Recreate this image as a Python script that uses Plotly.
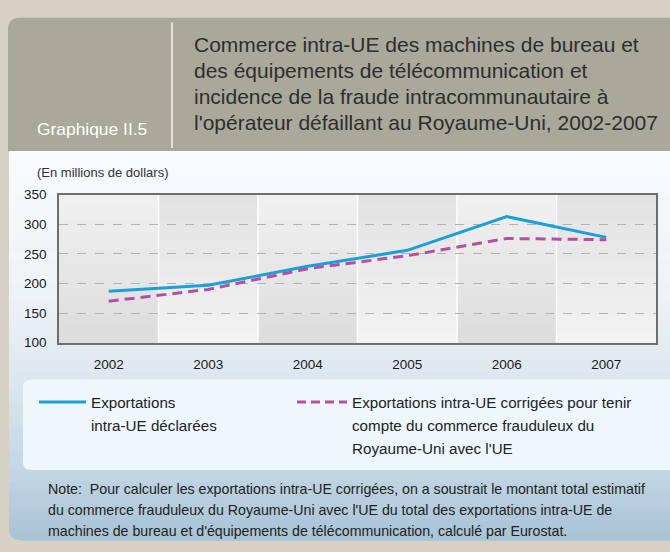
import plotly.graph_objects as go

# ---------------- data ----------------
years = ["2002", "2003", "2004", "2005", "2006", "2007"]
declared = [187, 197, 229, 256, 313, 278]
corrected = [170, 190, 225, 247, 276, 274]
series_names = [
    "Exportations intra-UE déclarées",
    "Exportations intra-UE corrigées pour tenir compte du commerce frauduleux du Royaume-Uni avec l'UE",
]
y_ticks = [100, 150, 200, 250, 300, 350]

chart_label = "Graphique II.5"
title_lines = [
    "Commerce intra-UE des machines de bureau et",
    "des équipements de télécommunication et",
    "incidence de la fraude intracommunautaire à",
    "l'opérateur défaillant au Royaume-Uni, 2002-2007",
]
unit_label = "(En millions de dollars)"
legend1_lines = ["Exportations", "intra-UE déclarées"]
legend2_lines = [
    "Exportations intra-UE corrigées pour tenir",
    "compte du commerce frauduleux du",
    "Royaume-Uni avec l'UE",
]
note_lines = [
    "Note:  Pour calculer les exportations intra-UE corrigées, on a soustrait le montant total estimatif",
    "du commerce frauduleux du Royaume-Uni avec l'UE du total des exportations intra-UE de",
    "machines de bureau et d'équipements de télécommunication, calculé par Eurostat.",
]

# ---------------- style ----------------
W, H = 670, 552
FONT = "Liberation Sans, Arial, sans-serif"
PAGE = "#d7d1c5"
HEADER = "#aaa89a"
BLUE = "#1b9fdb"
PINK = "#b3519f"
TEXT = "#222222"


def px(x):
    return x / W


def py(y):
    return 1 - y / H


def hex2rgb(h):
    h = h.lstrip("#")
    return tuple(int(h[i:i + 2], 16) for i in (0, 2, 4))


def lerp_color(stops, t):
    for (t0, c0), (t1, c1) in zip(stops[:-1], stops[1:]):
        if t0 <= t <= t1:
            f = 0 if t1 == t0 else (t - t0) / (t1 - t0)
            a, b = hex2rgb(c0), hex2rgb(c1)
            return "rgb(%d,%d,%d)" % tuple(round(a[i] + (b[i] - a[i]) * f) for i in range(3))
    return stops[-1][1]


shapes = []

# header panel with rounded top-left corner
r = 12
x0, x1, y0, y1 = 8, 675, 11, 148
shapes.append(dict(
    type="path", xref="paper", yref="paper", layer="below",
    path=(f"M {px(x0)},{py(y1)} L {px(x0)},{py(y0 + r)} "
          f"Q {px(x0)},{py(y0)} {px(x0 + r)},{py(y0)} "
          f"L {px(x1)},{py(y0)} L {px(x1)},{py(y1)} Z"),
    fillcolor=HEADER, line=dict(width=0),
))

# body gradient strips
body_top, body_bot = 148, 548
body_stops = [(0.0, "#f8fbfd"), (0.35, "#eef3f7"), (0.55, "#e0e9f0"),
              (0.82, "#c3d6e3"), (1.0, "#a7c3d6")]
n = 60
for k in range(n):
    ya = body_top + (body_bot - body_top) * k / n
    yb = body_top + (body_bot - body_top) * (k + 1) / n
    shapes.append(dict(
        type="rect", xref="paper", yref="paper", layer="below",
        x0=px(9), x1=px(675), y0=py(yb + 0.6), y1=py(ya),
        fillcolor=lerp_color(body_stops, (k + 0.5) / n), line=dict(width=0),
    ))
# bottom-left rounded corner mask
r = 12
bx, byy = 9, 548
shapes.append(dict(
    type="path", xref="paper", yref="paper", layer="below",
    path=(f"M {px(bx - 1)},{py(byy - r)} L {px(bx)},{py(byy - r)} "
          f"Q {px(bx)},{py(byy)} {px(bx + r)},{py(byy)} "
          f"L {px(bx + r)},{py(byy + 2)} L {px(bx - 1)},{py(byy + 2)} Z"),
    fillcolor=PAGE, line=dict(width=0),
))

# white separator in header
shapes.append(dict(type="line", xref="paper", yref="paper", layer="below",
                   x0=px(172), x1=px(172), y0=py(16), y1=py(145),
                   line=dict(color="#f4f4f0", width=1.5)))

# legend box with rounded left corners
r = 8
lx0, lx1, ly0, ly1 = 23, 675, 383, 476
shapes.append(dict(
    type="path", xref="paper", yref="paper", layer="below",
    path=(f"M {px(lx0)},{py(ly1 - r)} L {px(lx0)},{py(ly0 + r)} "
          f"Q {px(lx0)},{py(ly0)} {px(lx0 + r)},{py(ly0)} "
          f"L {px(lx1)},{py(ly0)} L {px(lx1)},{py(ly1)} L {px(lx0 + r)},{py(ly1)} "
          f"Q {px(lx0)},{py(ly1)} {px(lx0)},{py(ly1 - r)} Z"),
    fillcolor="#eff7fc", line=dict(width=0),
))

# legend samples
shapes.append(dict(type="line", xref="paper", yref="paper",
                   x0=px(39), x1=px(86), y0=py(406), y1=py(406),
                   line=dict(color=BLUE, width=3)))
shapes.append(dict(type="line", xref="paper", yref="paper",
                   x0=px(297), x1=px(347), y0=py(406), y1=py(406),
                   line=dict(color=PINK, width=3, dash="9px,5px")))

# alternating gradient bands in the plot area
nb = 16
for i in range(len(years)):
    if i % 2 == 0:
        stops = [(0.0, "#dcdcdc"), (1.0, "#f1f1f1")]  # bottom -> top
    else:
        stops = [(0.0, "#f2f2f2"), (1.0, "#e2e2e2")]
    for k in range(nb):
        shapes.append(dict(
            type="rect", xref="x", yref="y domain", layer="below",
            x0=i - 0.5, x1=i + 0.5, y0=k / nb, y1=min(1, (k + 1) / nb + 0.004),
            fillcolor=lerp_color(stops, (k + 0.5) / nb), line=dict(width=0),
        ))
for i in range(1, len(years)):
    shapes.append(dict(type="line", xref="x", yref="y domain", layer="below",
                       x0=i - 0.5, x1=i - 0.5, y0=0, y1=1,
                       line=dict(color="#ffffff", width=1.5)))

# ---------------- annotations ----------------
ann = []


def text(x, y, s, size, color=TEXT):
    ann.append(dict(x=px(x), y=py(y), xref="paper", yref="paper", text=s,
                    showarrow=False, xanchor="left", yanchor="middle",
                    font=dict(family=FONT, size=size, color=color)))


text(35, 125, chart_label, 17.4, "#ffffff")
for j, s in enumerate(title_lines):
    text(192, 38.5 + j * 26.7, s, 21, "#2e2e2e")
text(35, 170, unit_label, 13, "#333333")
for j, s in enumerate(legend1_lines):
    text(89, 407 + j * 23.5, s, 15.2)
for j, s in enumerate(legend2_lines):
    text(350, 407 + j * 23.5, s, 15.2)
for j, s in enumerate(note_lines):
    text(46, 495 + j * 22, s, 14.2)

# ---------------- figure ----------------
fig = go.Figure()
fig.add_trace(go.Scatter(x=years, y=declared, mode="lines", name=series_names[0],
                         line=dict(color=BLUE, width=3)))
fig.add_trace(go.Scatter(x=years, y=corrected, mode="lines", name=series_names[1],
                         line=dict(color=PINK, width=3, dash="10px,6px")))

fig.update_layout(
    width=W, height=H,
    margin=dict(l=0, r=0, t=0, b=0),
    paper_bgcolor=PAGE,
    plot_bgcolor="rgba(0,0,0,0)",
    showlegend=False,
    shapes=shapes,
    annotations=ann,
    font=dict(family=FONT, color=TEXT),
    xaxis=dict(
        domain=[px(59), px(656)], type="category", range=[-0.5, 5.5],
        showgrid=False, zeroline=False, showline=True, mirror=True,
        linecolor="#6e6e6e", linewidth=1.5, ticks="",
        tickfont=dict(family=FONT, size=13.5, color="#1a1a1a"),
        ticklabelstandoff=8, fixedrange=True,
    ),
    yaxis=dict(
        domain=[py(345), py(193)], range=[100, 350], tickvals=y_ticks,
        showgrid=True, gridcolor="#b2b2b2", griddash="dash", gridwidth=1,
        zeroline=False, showline=True, mirror=True,
        linecolor="#6e6e6e", linewidth=1.5, ticks="",
        tickfont=dict(family=FONT, size=13.5, color="#1a1a1a"),
        ticklabelstandoff=8, fixedrange=True,
    ),
)

fig.write_html(
    "out.html",
    config={"displayModeBar": False},
    post_script="document.body.style.margin='0';document.body.style.overflow='hidden';",
)
